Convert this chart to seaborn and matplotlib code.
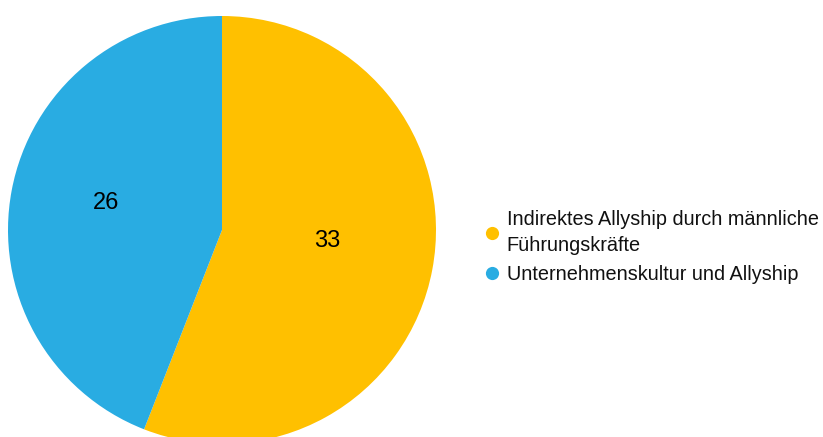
import matplotlib
matplotlib.use("Agg")
import matplotlib.pyplot as plt
import seaborn as sns
from matplotlib.lines import Line2D

sns.set_theme(style="white")
plt.rcParams['font.family'] = ['Liberation Sans', 'DejaVu Sans']

categories = ["Indirektes Allyship durch männliche\nFührungskräfte",
              "Unternehmenskultur und Allyship"]
values = [33, 26]
colors = ["#FFC000", "#29ACE2"]

W, H, DPI = 823, 437, 100
fig = plt.figure(figsize=(W / DPI, H / DPI), dpi=DPI)
ax = fig.add_axes([0, 0, 1, 1])

cx, cy, R = 222, 230, 214  # pixel geometry of the pie
wedges, texts, autotexts = ax.pie(
    values, colors=colors, startangle=90, counterclock=False,
    autopct=lambda p: f"{round(p * sum(values) / 100):d}",
    pctdistance=0.52, textprops=dict(fontsize=17, color="black"),
    wedgeprops=dict(linewidth=0))
ax.set_aspect('auto')
ax.set_xlim(-cx / R, (W - cx) / R)
ax.set_ylim(-(H - cy) / R, cy / R)
ax.axis('off')

# small nudges to match the reference label placement
nudges = [(-0.02, 0.047), (-0.033, 0.028)]
for t, (dx, dy) in zip(autotexts, nudges):
    x, y = t.get_position()
    t.set_position((x + dx, y + dy))

handles = [Line2D([], [], marker='o', linestyle='none', markersize=9.5,
                  markerfacecolor=c, markeredgewidth=0) for c in colors]
leg = fig.legend(handles, categories, loc='center left',
                 bbox_to_anchor=(472 / W, 1 - 247 / H), frameon=False,
                 fontsize=14.3, handletextpad=0.15, handlelength=1.2,
                 labelspacing=0.5, borderaxespad=0)
for t in leg.get_texts():
    t.set_linespacing(1.52)
    t.set_color("#111111")

fig.savefig("out.png", dpi=DPI)
